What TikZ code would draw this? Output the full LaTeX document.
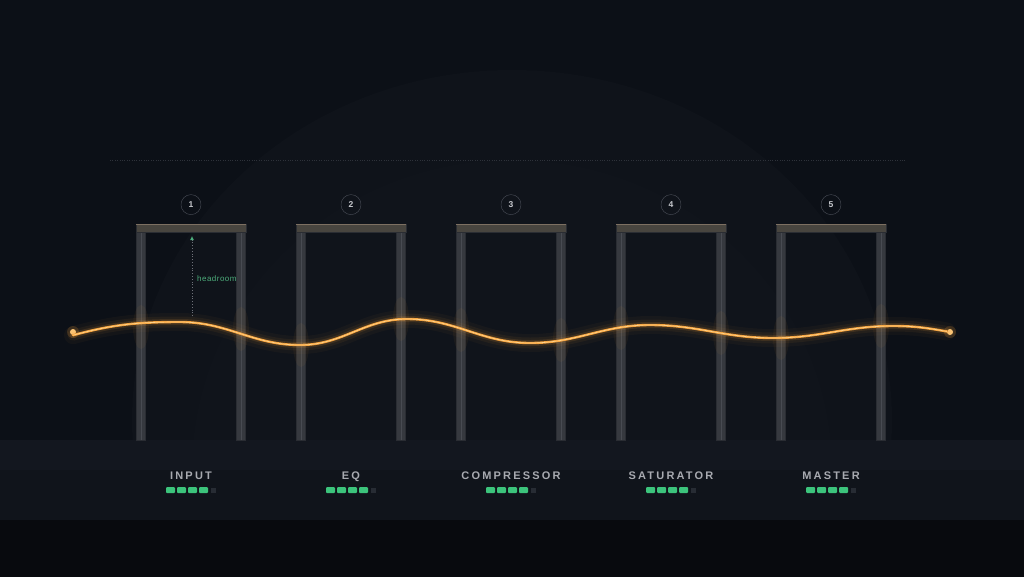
\documentclass[tikz,border=0pt]{standalone}
\usepackage{fontspec}
\setmainfont{Liberation Sans}
\usepackage{tikz}
\usetikzlibrary{positioning, arrows.meta}
\definecolor{bgnavy}{HTML}{0C1017}
\definecolor{domenavy}{HTML}{0F131A}
\definecolor{floornavy}{HTML}{10141B}
\definecolor{floortop}{HTML}{13171F}
\definecolor{floordark}{HTML}{080A0E}
\definecolor{postgray}{HTML}{36393F}
\definecolor{postedge}{HTML}{2A2D33}
\definecolor{postlight}{HTML}{484B52}
\definecolor{barbrown}{HTML}{48453F}
\definecolor{baredge}{HTML}{7D7062}
\definecolor{ringgray}{HTML}{4A4E57}
\definecolor{numgray}{HTML}{C7C9CE}
\definecolor{labelgray}{HTML}{A8AAB0}
\definecolor{metergreen}{HTML}{3CC47C}
\definecolor{meteroff}{HTML}{272C34}
\definecolor{headgreen}{HTML}{4DAE7C}
\definecolor{waveorange}{HTML}{F5A23C}
\definecolor{wavehot}{HTML}{FFD28A}

\begin{document}
\begin{tikzpicture}[x=1pt, y=-1pt, node distance=1cm]
\tikzstyle{post} = [rectangle, minimum width=9pt, minimum height=208pt, inner sep=0pt, draw=postedge, fill=postgray]
\tikzstyle{topbar} = [rectangle, minimum width=110pt, minimum height=8pt, inner sep=0pt, draw=postedge, fill=barbrown]
\tikzstyle{stepnum} = [circle, minimum size=20pt, inner sep=0pt, draw=ringgray, text=numgray, font=\fontsize{8.5}{10}\selectfont\bfseries]
\tikzstyle{stagelabel} = [anchor=base, inner sep=0pt, text=labelgray, font=\fontsize{11}{13}\selectfont\bfseries\addfontfeatures{LetterSpace=20}]
\tikzstyle{meterled} = [rectangle, rounded corners=1pt, minimum width=9pt, minimum height=6pt, inner sep=0pt, fill=metergreen]
\tikzstyle{meterdim} = [rectangle, minimum width=5pt, minimum height=5pt, inner sep=0pt, fill=meteroff]
\tikzstyle{wavedot} = [circle, minimum size=6pt, inner sep=0pt, fill=wavehot]

% Background, dome and floor
\useasboundingbox (0,0) rectangle (1024,576);
\fill[bgnavy] (-4,-4) rectangle (1028,580);
\begin{scope}
    \clip (0,0) rectangle (1024,440);
    \fill[domenavy] (512,420) ellipse (380 and 350);
    \fill[floortop, opacity=0.25] (512,470) ellipse (320 and 310);
\end{scope}
\draw[dotted, ringgray!55!bgnavy] (110,160) -- (905,160);
\fill[floornavy] (-4,440) rectangle (1028,520);
\fill[floortop] (-4,440) rectangle (1028,470);
\fill[floordark] (-4,520) rectangle (1028,580);

% Frames
\foreach \i in {1,...,5} {
    \pgfmathsetmacro{\cx}{191+160*(\i-1)}
    \node (lpost\i) [post] at (\cx-50,336) {};
    \node (rpost\i) [post] at (\cx+50,336) {};
    \draw[postlight] (lpost\i.north) -- (lpost\i.south);
    \draw[postlight] (rpost\i.north) -- (rpost\i.south);
    \node (bar\i) [topbar] at (\cx,228) {};
    \draw[baredge] (bar\i.north west) -- (bar\i.north east);
    \node (num\i) [stepnum, above=9pt of bar\i] {\i};
}

% Glow where the wave crosses the posts
\foreach \x/\y in {141/327, 241/329, 301/345, 401/319, 461/330, 561/340, 621/328, 721/333, 781/338, 881/326} {
    \fill[waveorange, opacity=0.05] (\x,\y) ellipse (8 and 22);
}

% Headroom marker
\coordinate (hbase) at (192,316);
\coordinate (htop) at (192,236);
\draw[dotted, thick, ringgray!80!white, -{Latex[length=4pt, width=4pt, color=headgreen]}] (hbase) -- (htop);
\node (headroom) [anchor=west, inner sep=0pt, text=headgreen, font=\fontsize{8}{10}\selectfont\addfontfeatures{LetterSpace=6}] at (197,279) {headroom};

% Signal wave
\coordinate (w1) at (180,322);
\coordinate (w2) at (300,345);
\coordinate (w3) at (407,319);
\coordinate (w4) at (530,343);
\coordinate (w5) at (650,325);
\coordinate (w6) at (773,338);
\coordinate (w7) at (893,326);
\node (wstart) [wavedot] at (73,332) {};
\node (wend) [wavedot] at (950,332) {};
\fill[waveorange, opacity=0.18] (wstart) circle (6);
\fill[waveorange, opacity=0.18] (wend) circle (6);
\foreach \lw/\op in {18/0.035, 11/0.06, 6/0.12, 2.4/1} {
    \draw[waveorange, line width=\lw pt, opacity=\op, line cap=round]
        (wstart.south) to[out=15,in=180] (w1) to[out=0,in=180] (w2) to[out=0,in=180] (w3)
        to[out=0,in=180] (w4) to[out=0,in=180] (w5) to[out=0,in=180] (w6)
        to[out=0,in=180] (w7) to[out=0,in=170] (wend);
}
\draw[wavehot, line width=0.7pt]
    (wstart.south) to[out=15,in=180] (w1) to[out=0,in=180] (w2) to[out=0,in=180] (w3)
    to[out=0,in=180] (w4) to[out=0,in=180] (w5) to[out=0,in=180] (w6)
    to[out=0,in=180] (w7) to[out=0,in=170] (wend);

% Stage labels
\node (input) [stagelabel] at (191,479.5) {INPUT};
\node (eq) [stagelabel] at (351,479.5) {EQ};
\node (compressor) [stagelabel] at (511,479.5) {COMPRESSOR};
\node (saturator) [stagelabel] at (671,479.5) {SATURATOR};
\node (master) [stagelabel] at (831,479.5) {MASTER};

% Meters
\foreach \cx in {191,351,511,671,831} {
    \foreach \k in {0,...,3} {
        \node (led-\cx-\k) [meterled] at (\cx-20.5+11*\k,490) {};
    }
    \node (dim-\cx) [meterdim] at (\cx+22.5,490) {};
}

\end{tikzpicture}
\end{document}
